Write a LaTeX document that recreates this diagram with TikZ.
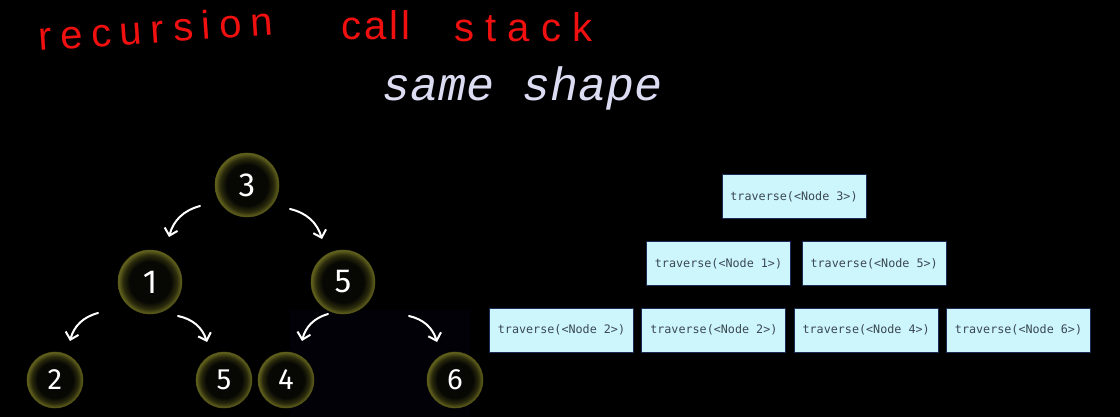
\documentclass[tikz,border=0pt]{standalone}
\usepackage{fontspec}
\usepackage{xcolor}
\usepackage{tikz}
\usetikzlibrary{calc, positioning, arrows.meta}

\newfontfamily\handfont{Liberation Sans}[LetterSpace=22]
\newfontfamily\handfontnarrow{Liberation Sans}[LetterSpace=8]
\newfontfamily\handfontwide{Liberation Sans}[LetterSpace=28]
\newfontfamily\titlefont{Liberation Mono}
\newfontfamily\digitfont{Fira Sans}
\newfontfamily\codefont{DejaVu Sans Mono}

\definecolor{penred}{HTML}{F01010}
\definecolor{titlecol}{HTML}{DCDCF2}
\definecolor{ballin}{HTML}{070704}
\definecolor{ballmid}{HTML}{2A2A0C}
\definecolor{ballrim}{HTML}{66661F}
\definecolor{boxfill}{HTML}{CDF6FC}
\definecolor{boxedge}{HTML}{1E2C55}
\definecolor{codegray}{HTML}{3A4852}
\definecolor{shadebg}{HTML}{020107}

\pgfdeclareradialshading{ballglow}{\pgfpoint{0bp}{0bp}}{%
  color(0bp)=(ballin); color(16bp)=(ballin); color(21bp)=(ballmid);
  color(25bp)=(ballrim); color(50bp)=(ballrim)}

\begin{document}
\begin{tikzpicture}[x=0.75pt, y=0.75pt,
    ball/.style={circle, minimum size=48pt, inner sep=0pt, shading=ballglow,
      draw=ballrim!80!black, line width=0.4pt, text=white,
      font=\digitfont\fontsize{25}{25}\selectfont},
    smallball/.style={ball, minimum size=42pt, font=\digitfont\fontsize{22}{22}\selectfont},
    arr/.style={-{Straight Barb[length=5pt, width=10pt]}, white, line width=1.5pt, line cap=round},
    callbox/.style={draw=boxedge, fill=boxfill, line width=0.75pt, minimum width=108pt,
      minimum height=33pt, inner sep=0pt, text=codegray,
      font=\codefont\fontsize{8.8}{10}\selectfont},
    pen/.style={penred, anchor=base west, inner sep=0pt}]
    % Nền
    \fill[black] (0,0) rectangle (1120,-417);
    \useasboundingbox (0,0) rectangle (1120,-417);
    \fill[shadebg] (290,-310) rectangle (470,-417);

    % Chữ viết tay
    \node[pen, rotate=4, font=\handfont\fontsize{30}{30}\selectfont]
        (recword) at (39,-51) {recursion};
    \node[pen, font=\handfontnarrow\fontsize{30}{30}\selectfont]
        (callword) at (341,-40) {call};
    \node[pen, font=\handfontwide\fontsize{30}{30}\selectfont]
        (stackword) at (454,-42) {stack};
    \node[titlecol, anchor=base, inner sep=0pt, font=\titlefont\itshape\fontsize{35}{35}\selectfont]
        (title) at (523,-101) {same shape};

    % Cây
    \node[ball] (n3) at (247,-185) {3};
    \node[ball] (n1) at (150,-282) {1};
    \node[ball] (n5) at (343,-282) {5};
    \node[smallball] (n2) at (55,-380) {2};
    \node[smallball] (n5b) at (224,-380) {5};
    \node[smallball] (n4) at (286,-380) {4};
    \node[smallball] (n6) at (455,-380) {6};

    \draw[arr] ($(n3)+(-47,-21)$) to[bend right=30] ($(n1)+(19,45)$);
    \draw[arr] ($(n3)+(43,-24)$) to[bend left=30] ($(n5)+(-21,43)$);
    \draw[arr] ($(n1)+(-52,-31)$) to[bend right=30] ($(n2)+(15,39)$);
    \draw[arr] ($(n1)+(28,-34)$) to[bend left=30] ($(n5b)+(-17,38)$);
    \draw[arr] ($(n5)+(-15,-32)$) to[bend right=30] ($(n4)+(16,39)$);
    \draw[arr] ($(n5)+(66,-34)$) to[bend left=30] ($(n6)+(-18,38)$);

    % Ngăn xếp lời gọi
    \node[callbox] (c3) at (794,-196.5) {traverse(<Node 3>)};
    \node[callbox] (c1) at (718.5,-263.5) {traverse(<Node 1>)};
    \node[callbox, right=8pt of c1] (c5) {traverse(<Node 5>)};
    \node[callbox] (c2a) at (561.5,-330) {traverse(<Node 2>)};
    \node[callbox, right=5.5pt of c2a] (c2b) {traverse(<Node 2>)};
    \node[callbox, right=5.5pt of c2b] (c4) {traverse(<Node 4>)};
    \node[callbox, right=5.5pt of c4] (c6) {traverse(<Node 6>)};
\end{tikzpicture}
\end{document}
